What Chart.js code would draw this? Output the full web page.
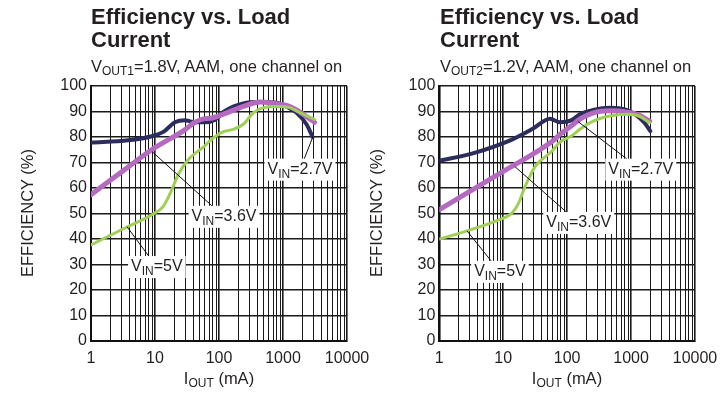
<!DOCTYPE html>
<html>
<head>
<meta charset="utf-8">
<script src="https://cdn.jsdelivr.net/npm/chart.js@4.4.0/dist/chart.umd.min.js"></script>
<style>
  body { margin: 0; width: 720px; height: 399px; background: #fff; position: relative; overflow: hidden;
         font-family: "Liberation Sans", Arial, sans-serif; color: #231f20; }
  canvas { position: absolute; left: 0; top: 0; }
  .title { position: absolute; top: 5px; font-weight: bold; font-size: 22px; line-height: 23px; }
  .sub { position: absolute; top: 57px; font-size: 16.5px; line-height: 18px; white-space: nowrap; }
  sub { font-size: 12px; vertical-align: -3px; line-height: 0; }
  .ytitle { position: absolute; width: 200px; height: 20px; line-height: 20px; font-size: 16.5px;
            text-align: center; white-space: nowrap; transform: rotate(-90deg); }
  .xtitle { position: absolute; top: 368px; width: 140px; font-size: 16.5px; line-height: 20px; text-align: center; }
</style>
</head>
<body>
<canvas id="left" width="720" height="399"></canvas>
<canvas id="right" width="720" height="399"></canvas>

<div class="title" style="left:91px">Efficiency vs. Load<br>Current</div>
<div class="sub" style="left:91px">V<sub>OUT1</sub>=1.8V, AAM, one channel on</div>
<div class="ytitle" style="left:-73px; top:203px">EFFICIENCY (%)</div>
<div class="xtitle" style="left:149px">I<sub>OUT</sub> (mA)</div>

<div class="title" style="left:440px">Efficiency vs. Load<br>Current</div>
<div class="sub" style="left:440px">V<sub>OUT2</sub>=1.2V, AAM, one channel on</div>
<div class="ytitle" style="left:276px; top:203px">EFFICIENCY (%)</div>
<div class="xtitle" style="left:497px">I<sub>OUT</sub> (mA)</div>

<script>
// Left chart: VOUT1 = 1.8V
const left27x = [1, 3.8, 8.9, 13.5, 20.5, 29.5, 37, 60, 87, 120, 240, 440, 800, 1140, 1630, 2340, 2900];
const left27y = [77.8, 78.7, 80.3, 82, 85.8, 86.6, 86, 85.8, 86.8, 90, 93.2, 93.7, 93.4, 91.9, 89.5, 84.9, 80];
const left36x = [1, 3, 8.9, 30, 41, 60, 72, 115, 240, 440, 800, 1140, 1630, 2340, 3100];
const left36y = [57.4, 66.3, 75, 83, 85.6, 87.2, 87.3, 88.9, 92, 93.7, 93, 92.4, 90.6, 88, 85.8];
const left5x = [1, 3.8, 8.9, 13.5, 18.3, 23, 33, 60, 72, 115, 167, 240, 345, 490, 800, 1290, 1850, 3100];
const left5y = [37.7, 44.9, 49.5, 52.8, 59.3, 65.2, 71.1, 76.5, 78.5, 82, 83, 85, 89.5, 91.5, 92, 91.5, 89.5, 86.9];

// Right chart: VOUT2 = 1.2V
const right27x = [1, 3.24, 13.7, 28, 54, 77, 118, 158, 256, 465, 850, 1210, 1620, 2000];
const right27y = [70.7, 73.5, 79, 83, 87.2, 85.8, 86.6, 88.9, 90.6, 91.5, 90.6, 88.5, 85.6, 82.3];
const right36x = [1, 10, 60, 77, 118, 158, 256, 465, 850, 1350, 1950];
const right36y = [51.5, 66.5, 78.5, 81, 84.5, 87, 89.5, 90.3, 89.8, 88.5, 86.2];
const right5x = [1, 2.5, 8.5, 13.7, 17.4, 22, 31.7, 57.6, 77, 118, 158, 256, 465, 850, 1350, 1950];
const right5y = [40, 42.9, 47.5, 50.2, 54.1, 60.6, 68.5, 74.4, 78, 80.5, 83, 86.2, 88.2, 88.9, 88.2, 85.6];

// Axes
const xTickLabels = [1, 10, 100, 1000, 10000];
const yTickLabels = [0, 10, 20, 30, 40, 50, 60, 70, 80, 90, 100];

// Callout labels: [subscript, rest, anchor x, anchor y, label x, label y]
const leftNotes = [
  ["IN", "=2.7V", 2944, 80.2, 1845, 67.2],
  ["IN", "=3.6V", 8.98, 74.3, 120, 48.7],
  ["IN", "=5V", 3.65, 44.8, 10.7, 29.0]
];
const rightNotes = [
  ["IN", "=2.7V", 147, 86.1, 1418, 67.2],
  ["IN", "=3.6V", 15.2, 68.4, 152, 46.3],
  ["IN", "=5V", 2.71, 43.2, 8.88, 27.1]
];

const colors = { v27: "#2c2d5c", v36: "#b569c0", v5: "#9fcf55" };

// grid values at 1..9 per decade
const gridValues = [];
for (let e = 0; e < 4; e++) {
  for (let s = 1; s < 10; s++) gridValues.push(s * Math.pow(10, e));
}
gridValues.push(10000);

function pts(xs, ys) {
  return xs.map((x, i) => ({ x: x, y: ys[i] }));
}

const calloutPlugin = {
  id: "callouts",
  afterDatasetsDraw(chart, args, opts) {
    const ctx = chart.ctx;
    const xs = chart.scales.x, ys = chart.scales.y;
    ctx.save();
    opts.notes.forEach(n => {
      const ax = xs.getPixelForValue(n[2]), ay = ys.getPixelForValue(n[3]);
      const lx = xs.getPixelForValue(n[4]), ly = ys.getPixelForValue(n[5]);
      ctx.strokeStyle = "#111";
      ctx.lineWidth = 1;
      ctx.beginPath();
      ctx.moveTo(ax, ay);
      ctx.lineTo(lx, ly);
      ctx.stroke();
      // measure
      ctx.font = "16px 'Liberation Sans', Arial, sans-serif";
      const wV = ctx.measureText("V").width;
      const wRest = ctx.measureText(n[1]).width;
      ctx.font = "12px 'Liberation Sans', Arial, sans-serif";
      const wSub = ctx.measureText(n[0]).width;
      const w = wV + wSub + wRest;
      ctx.fillStyle = "#fff";
      ctx.fillRect(lx - w / 2 - 3, ly - 11, w + 6, 22);
      ctx.fillStyle = "#231f20";
      ctx.textBaseline = "alphabetic";
      ctx.textAlign = "left";
      let x = lx - w / 2;
      ctx.font = "16px 'Liberation Sans', Arial, sans-serif";
      ctx.fillText("V", x, ly + 4);
      x += wV;
      ctx.font = "12px 'Liberation Sans', Arial, sans-serif";
      ctx.fillText(n[0], x, ly + 8);
      x += wSub;
      ctx.font = "16px 'Liberation Sans', Arial, sans-serif";
      ctx.fillText(n[1], x, ly + 4);
    });
    ctx.restore();
  }
};

function makeChart(id, padLeft, yWidth, padRight, series, notes) {
  return new Chart(document.getElementById(id), {
    type: "line",
    data: {
      datasets: [
        { data: pts(series[4], series[5]), borderColor: colors.v5, borderWidth: 3 },
        { data: pts(series[2], series[3]), borderColor: colors.v36, borderWidth: 5 },
        { data: pts(series[0], series[1]), borderColor: colors.v27, borderWidth: 4 }
      ]
    },
    options: {
      responsive: false,
      animation: false,
      layout: { padding: { top: 86, left: padLeft, right: padRight, bottom: 0 } },
      elements: {
        point: { radius: 0 },
        line: { cubicInterpolationMode: "monotone", borderCapStyle: "round", borderJoinStyle: "round" }
      },
      plugins: {
        legend: { display: false },
        tooltip: { enabled: false },
        callouts: { notes: notes }
      },
      scales: {
        x: {
          type: "logarithmic",
          min: 1,
          max: 10000,
          afterBuildTicks: s => { s.ticks = gridValues.map(v => ({ value: v })); },
          afterFit: s => { s.height = 58; s.paddingLeft = 0; s.paddingRight = 0; },
          border: { display: true, width: 2, color: "#111" },
          grid: {
            color: "#1a1a1a",
            drawTicks: false,
            lineWidth: c => (c.tick && xTickLabels.includes(c.tick.value) ? 1.6 : 1)
          },
          ticks: {
            autoSkip: false,
            maxRotation: 0,
            padding: 8,
            color: "#231f20",
            font: { size: 16, family: "'Liberation Sans', Arial, sans-serif" },
            callback: v => (xTickLabels.includes(v) ? String(v) : "")
          }
        },
        y: {
          min: 0,
          max: 100,
          afterBuildTicks: s => { s.ticks = yTickLabels.map(v => ({ value: v })); },
          afterFit: s => { s.width = yWidth; s.paddingTop = 0; s.paddingBottom = 0; },
          border: { display: true, width: 2, color: "#111" },
          grid: { color: "#1a1a1a", drawTicks: false, lineWidth: 1.6 },
          ticks: {
            padding: 4,
            color: "#231f20",
            font: { size: 16, family: "'Liberation Sans', Arial, sans-serif" }
          }
        }
      }
    },
    plugins: [calloutPlugin]
  });
}

makeChart("left", 0, 91, 720 - 347,
  [left27x, left27y, left36x, left36y, left5x, left5y], leftNotes);
makeChart("right", 360, 79.3, 720 - 695,
  [right27x, right27y, right36x, right36y, right5x, right5y], rightNotes);
</script>
</body>
</html>
